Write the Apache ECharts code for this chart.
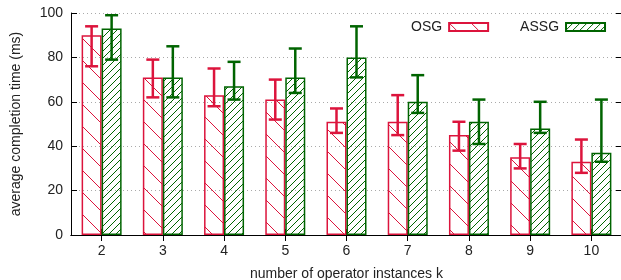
<!DOCTYPE html>
<html>
<head>
<meta charset="utf-8">
<script src="https://cdn.jsdelivr.net/npm/echarts@6/dist/echarts.min.js"></script>
<style>html,body{margin:0;padding:0;background:#fff}#c{width:621px;height:280px}</style>
</head>
<body>
<div id="c"></div>
<script>
const categories = ['2','3','4','5','6','7','8','9','10'];
const osgMean = [90, 71, 63, 61, 51, 51, 45, 35, 33];
const osgLow  = [76, 62, 58, 52, 46, 45, 38, 30, 28];
const osgHigh = [94, 79, 75, 70, 57, 63, 51, 41, 43];
const assgMean = [93, 71, 67, 71, 80, 60, 51, 48, 37];
const assgLow  = [79, 62, 61, 64, 71, 55, 41, 46, 33];
const assgHigh = [99, 85, 78, 84, 94, 72, 61, 60, 61];
const yTicks = [0, 20, 40, 60, 80, 100];

const RED = '#dc143c';
const GREEN = '#006400';

function hatch(color, size, dir) {
  const c = document.createElement('canvas');
  c.width = size; c.height = size;
  const g = c.getContext('2d');
  g.strokeStyle = color; g.lineWidth = 1;
  g.beginPath();
  if (dir === 'back') {
    g.moveTo(-1, -1); g.lineTo(size + 1, size + 1);
    g.moveTo(-1 - size, -1); g.lineTo(1, size + 1);
    g.moveTo(size - 1, -1); g.lineTo(2 * size + 1, size + 1);
  } else {
    g.moveTo(-1, size + 1); g.lineTo(size + 1, -1);
    g.moveTo(-1 - size, size + 1); g.lineTo(1, -1);
    g.moveTo(size - 1, size + 1); g.lineTo(2 * size + 1, -1);
  }
  g.stroke();
  return c;
}

const chart = echarts.init(document.getElementById('c'), null, {renderer: 'canvas'});
const FONT = 'Liberation Sans';
const BARW = 20;

function errSeries(name, low, high, color, offset) {
  return {
    type: 'custom',
    name: name + '_err',
    z: 10,
    silent: true,
    data: categories.map((c, i) => [i, low[i], high[i]]),
    encode: {x: 0, y: [1, 2]},
    renderItem: function (params, api) {
      const i = api.value(0);
      const pLo = api.coord([i, api.value(1)]);
      const pHi = api.coord([i, api.value(2)]);
      const x = pLo[0] + offset;
      const h = 6.5;
      const st = {stroke: color, lineWidth: 2.5};
      return {
        type: 'group',
        children: [
          {type: 'line', shape: {x1: x, y1: pLo[1], x2: x, y2: pHi[1]}, style: st},
          {type: 'line', shape: {x1: x - h, y1: pLo[1], x2: x + h, y2: pLo[1]}, style: st},
          {type: 'line', shape: {x1: x - h, y1: pHi[1], x2: x + h, y2: pHi[1]}, style: st}
        ]
      };
    }
  };
}

const option = {
  animation: false,
  backgroundColor: '#fff',
  textStyle: {fontFamily: FONT},
  grid: {left: 71, right: -1, top: 13, bottom: 45, containLabel: false, outerBoundsMode: 'none'},
  legend: {
    data: ['OSG', 'ASSG'],
    orient: 'horizontal',
    icon: 'rect',
    left: 411, top: 20,
    width: 400,
    padding: 0,
    align: 'right',
    itemWidth: 39, itemHeight: 8,
    itemGap: 31,
    textStyle: {fontSize: 14, color: '#222', fontFamily: FONT, padding: [0, 2, 0, 0]}
  },
  xAxis: [{
    type: 'category',
    data: categories,
    boundaryGap: true,
    axisLine: {lineStyle: {color: '#000', width: 1}},
    axisTick: {show: true, inside: true, alignWithLabel: true, length: 6, lineStyle: {color: '#000'}},
    axisLabel: {fontSize: 14, color: '#222', margin: 9, fontFamily: FONT},
    name: 'number of operator instances k',
    nameLocation: 'middle',
    nameGap: 32,
    nameTextStyle: {fontSize: 14, color: '#222', fontFamily: FONT}
  }, {
    type: 'category',
    data: categories,
    position: 'top',
    boundaryGap: true,
    axisLine: {show: true, lineStyle: {color: '#000', width: 1}},
    axisTick: {show: true, inside: true, alignWithLabel: true, length: 6, lineStyle: {color: '#000'}},
    axisLabel: {show: false}
  }],
  yAxis: [{
    type: 'value',
    min: 0, max: 100, interval: 20,
    axisLine: {show: true, lineStyle: {color: '#000', width: 1}},
    axisTick: {show: true, inside: true, length: 6, lineStyle: {color: '#000'}},
    axisLabel: {fontSize: 14, color: '#222', margin: 8, fontFamily: FONT,
      formatter: v => yTicks.includes(v) ? String(v) : ''},
    splitLine: {show: true, lineStyle: {color: '#aaa', type: [1, 3], width: 1}},
    name: 'average completion time (ms)',
    nameLocation: 'middle',
    nameGap: 48,
    nameTextStyle: {fontSize: 14, color: '#222', fontFamily: FONT}
  }, {
    type: 'value',
    min: 0, max: 100, interval: 20,
    position: 'right',
    axisLine: {show: true, lineStyle: {color: '#000', width: 1}},
    axisTick: {show: true, inside: true, length: 6, lineStyle: {color: '#000'}},
    axisLabel: {show: false},
    splitLine: {show: false}
  }],
  series: [{
    name: 'OSG',
    type: 'bar',
    barWidth: BARW,
    barGap: '0%',
    data: osgMean,
    itemStyle: {color: {image: hatch(RED, 22, 'back'), repeat: 'repeat'}, borderColor: RED, borderWidth: 1.5}
  }, {
    name: 'ASSG',
    type: 'bar',
    barWidth: BARW,
    barGap: '0%',
    data: assgMean,
    itemStyle: {color: {image: hatch(GREEN, 7, 'fwd'), repeat: 'repeat'}, borderColor: GREEN, borderWidth: 1.5}
  },
  errSeries('OSG', osgLow, osgHigh, RED, -BARW / 2),
  errSeries('ASSG', assgLow, assgHigh, GREEN, BARW / 2)
  ]
};
chart.setOption(option);
</script>
</body>
</html>
